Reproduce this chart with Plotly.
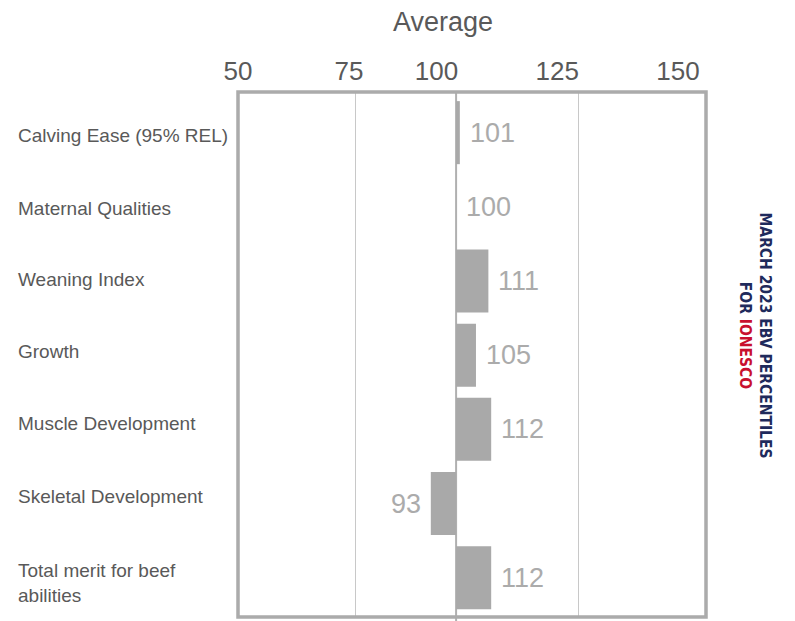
import plotly.graph_objects as go

# ---------------- data ----------------
categories = [
    "Calving Ease (95% REL)",
    "Maternal Qualities",
    "Weaning Index",
    "Growth",
    "Muscle Development",
    "Skeletal Development",
    "Total merit for beef<br>abilities",
]
scores = [101, 100, 111, 105, 112, 93, 112]          # printed values
# bar ends, in the chart's display scale (0-100 across the frame)
bar_end = [47.4, 46.6, 53.5, 50.85, 54.1, 41.2, 54.1]
base_pos = 46.6                                     # "Average" (100) line position

tick_labels = ["50", "75", "100", "125", "150"]
tick_label_pos = [0.0, 23.7, 42.4, 68.2, 94.0]      # where the labels sit on the scale
grid_pos = [25.2, 72.65]                            # light grid lines (75 / 125)

title_text = "Average"
side_line1 = "MARCH 2023 EBV PERCENTILES"
side_line2_a = "FOR "
side_line2_b = "IONESCO"

# ---------------- styling ----------------
FONT = "Liberation Sans, Arial, sans-serif"
TEXT_GREY = "#595959"
BAR_GREY = "#a9a9a9"
VALUE_GREY = "#ababab"
NAVY = "#1f2a5c"
CRIMSON = "#c8102e"
label_yshift = [-3, -1.5, 1, 3.5, 6, 7.5, -5]       # small vertical nudges of left labels

fig = go.Figure()

fig.add_trace(go.Bar(
    y=list(range(len(categories))),
    x=[e - base_pos for e in bar_end],
    base=base_pos,
    orientation="h",
    width=0.85,
    marker=dict(color=BAR_GREY, line=dict(width=0)),
    hoverinfo="skip",
    showlegend=False,
))

annotations = []
# left category labels
for i, c in enumerate(categories):
    annotations.append(dict(
        x=-0.474, xref="paper", y=i, yref="y", yshift=label_yshift[i],
        text=c, showarrow=False, xanchor="left", yanchor="middle", align="left",
        font=dict(family=FONT, size=19, color=TEXT_GREY),
    ))
# value labels
for i, (s, e) in enumerate(zip(scores, bar_end)):
    neg = e < base_pos
    annotations.append(dict(
        x=e, xref="x", y=i, yref="y",
        text=str(s), showarrow=False,
        xanchor="right" if neg else "left",
        xshift=-8 if neg else 8,
        yanchor="middle",
        font=dict(family=FONT, size=27, color=VALUE_GREY),
    ))
# title
annotations.append(dict(
    x=0.439, xref="paper", y=1.133, yref="paper",
    text=title_text, showarrow=False, xanchor="center", yanchor="middle",
    font=dict(family=FONT, size=27, color=TEXT_GREY),
))
# rotated side note
annotations.append(dict(
    x=1.105, xref="paper", y=0.536, yref="paper",
    text=f"<b>{side_line1}<br>{side_line2_a}<span style='color:{CRIMSON}'>{side_line2_b}</span></b>",
    showarrow=False, textangle=90, xanchor="center", yanchor="middle", align="center",
    font=dict(family="DejaVu Sans Condensed, sans-serif", size=15.5, color=NAVY),
))

# page body has an 8px margin, so the figure is drawn 8px smaller and offset
fig.update_layout(
    width=787, height=613,
    margin=dict(l=230, r=89, t=84, b=4),
    paper_bgcolor="white", plot_bgcolor="white",
    xaxis=dict(
        range=[0, 100], side="top",
        tickmode="array", tickvals=tick_label_pos, ticktext=tick_labels,
        showgrid=False, zeroline=False, showline=False, ticks="",
        ticklabelstandoff=6, automargin=False,
        tickfont=dict(family=FONT, size=26, color=TEXT_GREY),
        fixedrange=True,
    ),
    xaxis2=dict(
        range=[0, 100], overlaying="x", side="bottom",
        tickmode="array", tickvals=grid_pos, showticklabels=False,
        showgrid=True, gridcolor="#c8c8c8", gridwidth=1,
        zeroline=False, showline=False, ticks="", automargin=False,
    ),
    yaxis=dict(
        range=[6.53, -0.548], showticklabels=False, showgrid=False,
        zeroline=False, showline=False, ticks="", automargin=False,
    ),
    annotations=annotations,
    shapes=[
        dict(type="line", xref="x", yref="paper", x0=base_pos, x1=base_pos,
             y0=-0.01, y1=1.0, line=dict(color="#b0b0b0", width=2), layer="below"),
        dict(type="rect", xref="paper", yref="paper", x0=0, x1=1, y0=0, y1=1,
             line=dict(color="#ababab", width=3.5), layer="above"),
    ],
    bargap=0.15,
)
# invisible trace on xaxis2 so its grid renders
fig.add_trace(go.Scatter(x=[0], y=[0], xaxis="x2", mode="markers",
                         marker=dict(opacity=0), hoverinfo="skip", showlegend=False))

fig.write_html("out.html")
